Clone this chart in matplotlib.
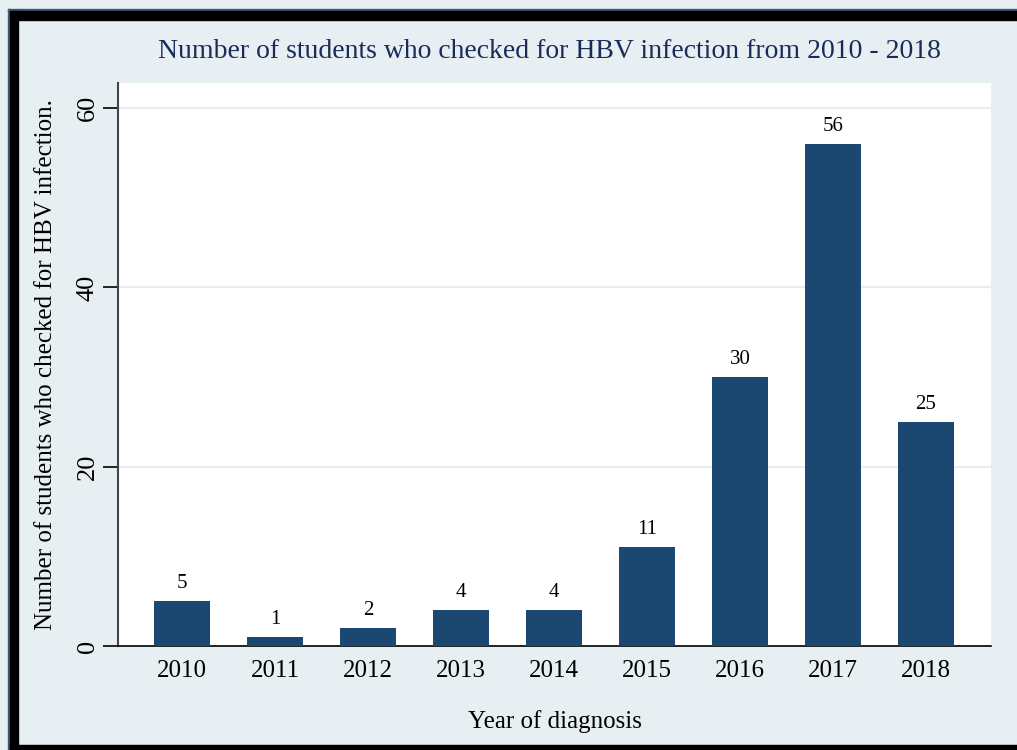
import matplotlib.pyplot as plt
from matplotlib.patches import Rectangle

years = ["2010", "2011", "2012", "2013", "2014", "2015", "2016", "2017", "2018"]
students = [5, 1, 2, 4, 4, 11, 30, 56, 25]
y_ticks = [0, 20, 40, 60]

plt.rcParams["font.family"] = ["Liberation Serif", "DejaVu Serif"]

bg = "#e8eff2"
bar_color = "#1b4870"

fig = plt.figure(figsize=(10.17, 7.5), dpi=100, facecolor=bg)
ax = fig.add_axes([118 / 1017, 1 - 646 / 750, (991 - 118) / 1017, (646 - 83) / 750])
ax.set_facecolor("white")

pos = list(range(len(years)))
bars = ax.bar(pos, students, width=0.6, color=bar_color, zorder=3)
for rect, v in zip(bars, students):
    ax.text(rect.get_x() + rect.get_width() / 2, v + 0.9, str(v),
            ha="center", va="bottom", fontsize=15)

ax.set_xlim(-0.69, 8.70)
ax.set_ylim(0, 62.8)
ax.set_xticks(pos)
ax.set_xticklabels(years, fontsize=18)
ax.set_yticks(y_ticks)
ax.set_yticklabels([str(t) for t in y_ticks], fontsize=19, rotation=90, va="center")
ax.tick_params(axis="x", length=0, pad=10)
ax.tick_params(axis="y", length=11, width=1.2, pad=3)
ax.yaxis.grid(True, color="#e6eef2", linewidth=1.5, zorder=0)
ax.set_axisbelow(True)

for side in ["top", "right"]:
    ax.spines[side].set_visible(False)
ax.spines["left"].set_color("#444444")
ax.spines["left"].set_linewidth(1.5)
ax.spines["bottom"].set_color("black")
ax.spines["bottom"].set_linewidth(1.2)

ax.set_xlabel("Year of diagnosis", fontsize=18, labelpad=20)
ax.set_ylabel("Number of students who checked for HBV infection.", fontsize=18, labelpad=14)
fig.text(549 / 1017, 1 - 51 / 750, "Number of students who checked for HBV infection from 2010 - 2018",
         ha="center", va="center", fontsize=20, color="#1a2b5a")

# dark frame along the top, left and bottom edges
fig.patches.append(Rectangle((8 / 1017, 1 - 11 / 750), 1, 2 / 750, transform=fig.transFigure,
                             color="#3a5a80", zorder=0))
fig.patches.append(Rectangle((10 / 1017, 1 - 20 / 750), 1, 9 / 750, transform=fig.transFigure,
                             color="black", zorder=0))
fig.patches.append(Rectangle((8 / 1017, 0), 2 / 1017, 1 - 9 / 750, transform=fig.transFigure,
                             color="#3a5a80", zorder=0))
fig.patches.append(Rectangle((10 / 1017, 0), 8 / 1017, 1 - 11 / 750, transform=fig.transFigure,
                             color="black", zorder=0))
fig.patches.append(Rectangle((10 / 1017, 0), 1, 5 / 750, transform=fig.transFigure,
                             color="black", zorder=0))

fig.savefig("out.png", dpi=100, facecolor=bg)
